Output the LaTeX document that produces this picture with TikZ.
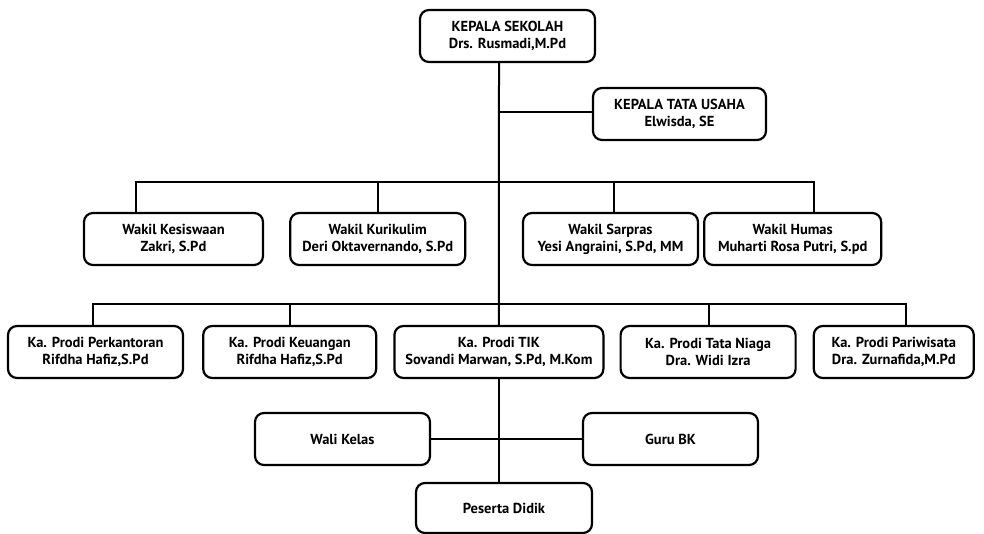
\documentclass[tikz,border=0pt]{standalone}
\usepackage{fontspec}
\setmainfont{PT Sans}
\usetikzlibrary{positioning}

\tikzset{
  unit/.style={draw, line width=2.2pt, rounded corners=9pt, minimum height=52pt,
    align=center, inner sep=2pt, font=\fontsize{14.5}{17}\selectfont\bfseries},
  link/.style={line width=2pt}
}

\begin{document}
\begin{tikzpicture}[x=1pt, y=-1pt]
    \useasboundingbox (0,0) rectangle (984,534);
    % pimpinan
    \node[unit, minimum width=175pt] (ks) at (507.5,36) {KEPALA SEKOLAH\\Drs. Rusmadi,M.Pd};
    \node[unit, minimum width=173pt] (ktu) at (679.5,114) {KEPALA TATA USAHA\\Elwisda, SE};
    % wakil
    \node[unit, minimum width=179pt] (kes) at (173.5,239) {Wakil Kesiswaan\\Zakri, S.Pd};
    \node[unit, minimum width=175pt, right = 25pt of kes] (kur) {Wakil Kurikulim\\Deri Oktavernando, S.Pd};
    \node[unit, minimum width=175pt] (sar) at (610.5,239) {Wakil Sarpras\\Yesi Angraini, S.Pd, MM};
    \node[unit, minimum width=177pt, right = 4pt of sar] (hum) {Wakil Humas\\Muharti Rosa Putri, S.pd};
    % prodi
    \node[unit, minimum width=175pt] (perk) at (95.5,352) {Ka. Prodi Perkantoran\\Rifdha Hafiz,S.Pd};
    \node[unit, minimum width=173pt, right = 18pt of perk] (keu) {Ka. Prodi Keuangan\\Rifdha Hafiz,S.Pd};
    \node[unit, minimum width=209pt, right = 16pt of keu] (tik) {Ka. Prodi TIK\\Sovandi Marwan, S.Pd, M.Kom};
    \node[unit, minimum width=175pt, right = 15pt of tik] (tn) {Ka. Prodi Tata Niaga\\Dra. Widi Izra};
    \node[unit, minimum width=160pt, right = 16pt of tn] (par) {Ka. Prodi Pariwisata\\Dra. Zurnafida,M.Pd};
    % bawah
    \node[unit, minimum width=175pt] (wk) at (342.5,439) {Wali Kelas};
    \node[unit, minimum width=175pt] (gbk) at (670.5,439) {Guru BK};
    \node[unit, minimum width=176pt, minimum height=50pt] (pd) at (504,508) {Peserta Didik};

    \coordinate (j1) at (499,112);
    \coordinate (j2) at (499,182);
    \coordinate (j3) at (499,304);

    \draw[link] (j1 |- ks.south) -- (tik.north);
    \draw[link] (j1) -- (ktu.west |- j1);
    \draw[link] ([xshift=-38pt]kes.north) |- (j2) -| ([xshift=21pt]hum.north);
    \draw[link] (kur.north) -- (kur.north |- j2);
    \draw[link] ([xshift=3pt]sar.north) -- ([xshift=3pt]sar.north |- j2);
    \draw[link] ([xshift=-3pt]perk.north) |- (j3) -| ([xshift=12pt]par.north);
    \draw[link] (keu.north) -- (keu.north |- j3);
    \draw[link] ([xshift=1pt]tn.north) -- ([xshift=1pt]tn.north |- j3);
    \draw[link] (tik.south) -- (tik.south |- pd.north);
    \draw[link] (wk.east) -- (gbk.west);
\end{tikzpicture}
\end{document}
